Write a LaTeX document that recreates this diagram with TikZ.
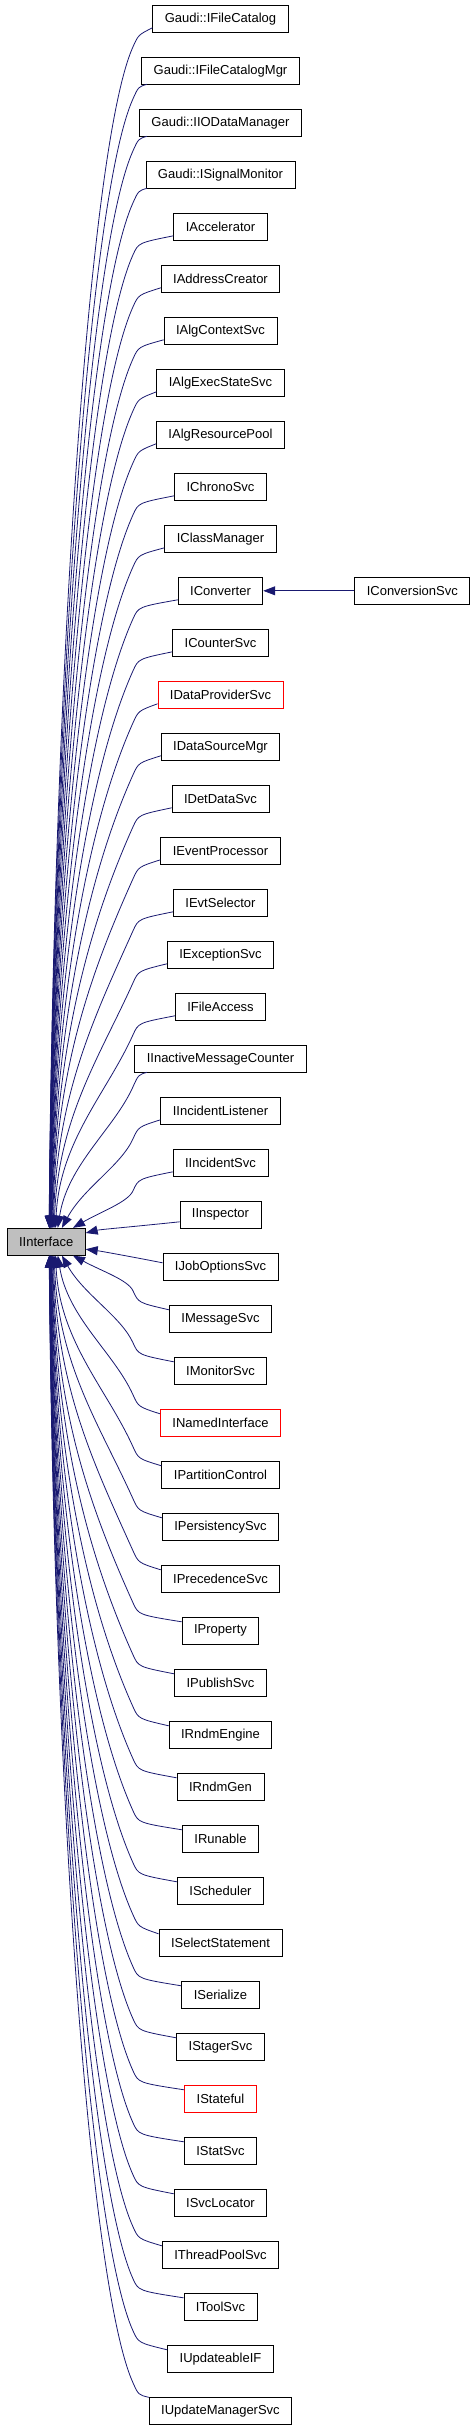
\documentclass[tikz,border=0pt]{standalone}
\usepackage{fontspec}
\setmainfont{Liberation Sans}
\usetikzlibrary{arrows.meta,calc}
\definecolor{edgeblue}{RGB}{25,25,112}
\definecolor{basegray}{RGB}{191,191,191}
\newdimen\myleftx
\begin{document}
\begin{tikzpicture}[x=1pt,y=-1pt,
  cls/.style={draw=black, line width=0.8pt, minimum height=27pt, inner xsep=12pt, inner ysep=0pt, font=\fontsize{13}{15}\selectfont, anchor=center},
  redcls/.style={cls, draw=red},
  basecls/.style={cls, fill=basegray},
  edge/.style={draw=edgeblue, line width=0.8pt, -{Triangle[length=12pt,width=9pt]}}
]
\useasboundingbox (0,0) rectangle (475,2429);
\node[basecls] (ii) at (46.2,1241.7) {IInterface};
\foreach \i/\lab/\sty in {
 0/Gaudi::IFileCatalog/cls, 1/Gaudi::IFileCatalogMgr/cls, 2/Gaudi::IIODataManager/cls,
 3/Gaudi::ISignalMonitor/cls, 4/IAccelerator/cls, 5/IAddressCreator/cls, 6/IAlgContextSvc/cls,
 7/IAlgExecStateSvc/cls, 8/IAlgResourcePool/cls, 9/IChronoSvc/cls, 10/IClassManager/cls,
 11/IConverter/cls, 12/ICounterSvc/cls, 13/IDataProviderSvc/redcls, 14/IDataSourceMgr/cls,
 15/IDetDataSvc/cls, 16/IEventProcessor/cls, 17/IEvtSelector/cls, 18/IExceptionSvc/cls,
 19/IFileAccess/cls, 20/IInactiveMessageCounter/cls, 21/IIncidentListener/cls,
 22/IIncidentSvc/cls, 23/IInspector/cls, 24/IJobOptionsSvc/cls, 25/IMessageSvc/cls,
 26/IMonitorSvc/cls, 27/INamedInterface/redcls, 28/IPartitionControl/cls,
 29/IPersistencySvc/cls, 30/IPrecedenceSvc/cls, 31/IProperty/cls, 32/IPublishSvc/cls,
 33/IRndmEngine/cls, 34/IRndmGen/cls, 35/IRunable/cls, 36/IScheduler/cls,
 37/ISelectStatement/cls, 38/ISerialize/cls, 39/IStagerSvc/cls, 40/IStateful/redcls,
 41/IStatSvc/cls, 42/ISvcLocator/cls, 43/IThreadPoolSvc/cls, 44/IToolSvc/cls,
 45/IUpdateableIF/cls, 46/IUpdateManagerSvc/cls}
{
  \node[\sty] (c\i) at (220.5,{18.8+52*\i}) {\lab};
}
\node[cls] (conv) at (412.3,590.8) {IConversionSvc};
\draw[edge] (conv) -- (c11);
% edges from classes above
\foreach \i in {0,...,22}{
  \pgfmathsetmacro\eyc{18.8+52*\i}
  \pgfmathsetmacro\ed{23-\i}
  \pgfmathsetmacro\eex{47+26/(\ed^0.8)}
  \pgfextractx{\myleftx}{\pgfpointanchor{c\i}{west}}
  \pgfmathsetmacro\elx{\myleftx}
  \pgfmathsetmacro\edx{max(0,147-\elx)}
  \pgfmathsetmacro\edy{\elx<150 ? 13.5 : 9}
  \pgfmathsetmacro\eky{\eyc+28}
  \pgfmathsetmacro\eD{1228.3-\eky}
  \pgfmathsetmacro\emm{min(100,0.3*\eD)}
  \pgfmathsetmacro\ecax{133-0.45*\emm}
  \pgfmathsetmacro\ecay{\eky+\emm}
  \pgfmathsetmacro\ekk{max(0.05,0.6-\eD/300)}
  \pgfmathsetmacro\ecbx{\eex+\ekk*(133-\eex)}
  \pgfmathsetmacro\ecby{1228.3-0.45*\eD}
  \draw[edge] ($(c\i.west)+(\edx,\edy)$) .. controls (138.4,\eyc+16) .. (133,\eky)
     .. controls (\ecax,\ecay) and (\ecbx,\ecby) .. ($(ii.north west)+(\eex-6.7,0)$);
}
% edges from classes below
\foreach \i in {25,...,46}{
  \pgfmathsetmacro\eyc{18.8+52*\i}
  \pgfmathsetmacro\ed{\i-24}
  \pgfmathsetmacro\eex{47+26/(\ed^0.8)}
  \pgfextractx{\myleftx}{\pgfpointanchor{c\i}{west}}
  \pgfmathsetmacro\elx{\myleftx}
  \pgfmathsetmacro\edx{max(0,147-\elx)}
  \pgfmathsetmacro\edy{\elx<150 ? 13.5 : 9}
  \pgfmathsetmacro\eky{\eyc-28}
  \pgfmathsetmacro\eD{\eky-1255}
  \pgfmathsetmacro\emm{min(100,0.3*\eD)}
  \pgfmathsetmacro\ecax{133-0.45*\emm}
  \pgfmathsetmacro\ecay{\eky-\emm}
  \pgfmathsetmacro\ekk{max(0.05,0.6-\eD/300)}
  \pgfmathsetmacro\ecbx{\eex+\ekk*(133-\eex)}
  \pgfmathsetmacro\ecby{1255+0.45*\eD}
  \draw[edge] ($(c\i.west)+(\edx,-\edy)$) .. controls (138.4,\eyc-16) .. (133,\eky)
     .. controls (\ecax,\ecay) and (\ecbx,\ecby) .. ($(ii.south west)+(\eex-6.7,0)$);
}
\draw[edge] ($(c23.west)+(0,7)$) .. controls (133,1226.7) and (100,1229.5) .. ($(ii.east)+(0,-8.7)$);
\draw[edge] ($(c24.west)+(0,-4)$) .. controls (133,1257) and (100,1251) .. ($(ii.east)+(0,7.5)$);
\end{tikzpicture}
\end{document}
